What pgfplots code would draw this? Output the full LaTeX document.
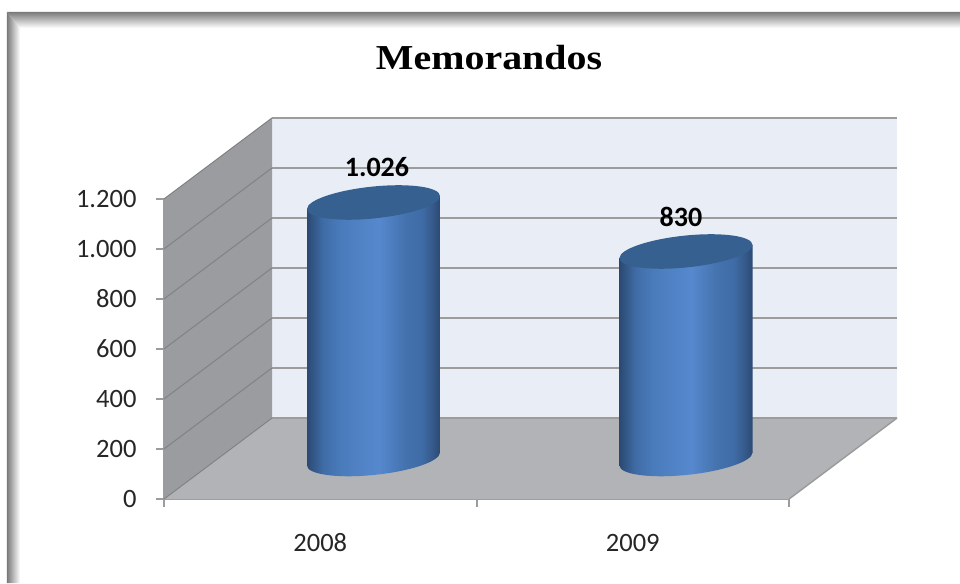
\documentclass[border=0pt]{standalone}
\usepackage{fontspec}
\usepackage{pgfplots}
\pgfplotsset{compat=1.18}
\setmainfont{Carlito}
\newfontfamily\titlefont{Liberation Serif}

\definecolor{wallback}{HTML}{E9EDF6}
\definecolor{wallside}{HTML}{9A9C9F}
\definecolor{wallfloor}{HTML}{B1B3B6}
\definecolor{gridc}{HTML}{9C9C9C}
\definecolor{sidegrid}{HTML}{808285}
\definecolor{capc}{HTML}{36608F}
\definecolor{cyledge}{HTML}{2B4A72}
\definecolor{cylb}{HTML}{3F6CA6}
\definecolor{cylc}{HTML}{4A7CBC}
\definecolor{cylmid}{HTML}{5688CE}
\definecolor{cyld}{HTML}{4472AD}
\definecolor{cyle}{HTML}{365A8C}

\pgfdeclarehorizontalshading{cyl}{100bp}{
  color(0bp)=(cyledge); color(25bp)=(cyledge); color(31bp)=(cylb); color(38bp)=(cylc);
  color(52bp)=(cylmid); color(62bp)=(cyld); color(68bp)=(cylb); color(72bp)=(cyle); color(75bp)=(cyledge); color(100bp)=(cyledge)}

% top and foot of a cylinder, slanted like the bars
\pgfdeclareplotmark{cyltop}{
  \pgfpathellipse{\pgfpointorigin}{\pgfpoint{66.5pt}{6.5pt}}{\pgfpoint{0pt}{16pt}}
  \pgfusepath{fill}}
\pgfdeclareplotmark{cylfoot}{
  \pgfpathellipse{\pgfpointorigin}{\pgfpoint{66.5pt}{6.5pt}}{\pgfpoint{0pt}{16pt}}
  \pgfshadepath{cyl}{0}\pgfusepath{discard}}

\pgfplotsset{
  cylbar/.style={ybar, /pgf/bar shift=0pt, /pgf/bar width=133pt, draw=none, shade, shading=cyl, shading angle=0, forget plot},
  cylend/.style={only marks, mark=#1, mark options={draw=none, fill=capc}, forget plot},
}

\begin{document}
\begin{tikzpicture}
\useasboundingbox (-164pt,-84pt) rectangle ++(960pt,583pt);
% frame shadow
\shade[top color=black!52, middle color=black!42, bottom color=white]
  (-157pt,487pt) -- (796pt,487pt) -- (796pt,471pt) -- (-144pt,471pt) -- cycle;
\shade[left color=black!52, middle color=black!42, right color=white]
  (-157pt,487pt) -- (-144pt,471pt) -- (-144pt,-84pt) -- (-157pt,-84pt) -- cycle;
\begin{axis}[
    scale only axis, width=625pt, height=300pt,
    xmin=0, xmax=2, ymin=0, ymax=1200,
    clip=false,
    axis x line=bottom, axis y line=left,
    axis line style={gridc, line width=2pt, -},
    xtick={0,1,2}, x tick label as interval, xticklabels={2008,2009},
    ytick={0,200,...,1200},
    tick align=outside, major tick length=8pt,
    tick style={gridc, line width=2pt},
    scaled ticks=false,
    /pgf/number format/assume math mode=true,
    /pgf/number format/1000 sep={.},
    tick label style={font=\fontsize{26.5}{30}\selectfont, text=black!85},
    xticklabel style={yshift=-24pt, text height=17pt, text depth=0pt},
    yticklabel style={xshift=-16pt},
    title={\titlefont\bfseries\scalebox{1.14}[1]{Memorandos}},
    title style={at={(axis description cs:0.52,1.45)}, anchor=center, font=\fontsize{35}{40}\selectfont},
  ]
  % walls
  \fill[wallback] (axis cs:0.3456,324) rectangle (axis cs:2.3456,1524);
  \fill[wallside] (axis cs:0,0) -- (axis cs:0.3456,324) -- (axis cs:0.3456,1524) -- (axis cs:0,1200) -- cycle;
  \fill[wallfloor] (axis cs:0,0) -- (axis cs:0.3456,324) -- (axis cs:2.3456,324) -- (axis cs:2,0) -- cycle;
  \pgfplotsinvokeforeach{0,200,...,1200}{
    \draw[gridc, line width=2pt] (axis cs:0.3456,#1+324) -- (axis cs:2.3456,#1+324);
    \draw[sidegrid, line width=1pt] (axis cs:0,#1) -- (axis cs:0.3456,#1+324);
  }
  \draw[gridc, line width=1.5pt] (axis cs:2,0) -- (axis cs:2.3456,324);

  % 2008
  \addplot[cylend=cylfoot, xshift=53.25pt, yshift=40pt] coordinates {(0.5,0)};
  \addplot[cylbar, xshift=53.25pt, yshift=24.7pt, yslant=0.098] coordinates {(0.5,1026)};
  \addplot[cylend=cyltop, xshift=53.25pt, yshift=40pt,
    nodes near coords, point meta=y,
    every node near coord/.append style={anchor=center, yshift=35pt, xshift=3.5pt, text=black,
      font=\fontsize{28}{32}\selectfont\bfseries}] coordinates {(0.5,1026)};
  % 2009
  \addplot[cylend=cylfoot, xshift=53.25pt, yshift=40pt] coordinates {(1.5,0)};
  \addplot[cylbar, xshift=53.25pt, yshift=-5.94pt, yslant=0.098] coordinates {(1.5,830)};
  \addplot[cylend=cyltop, xshift=53.25pt, yshift=40pt,
    nodes near coords, point meta=y,
    every node near coord/.append style={anchor=center, yshift=35pt, xshift=-5pt, text=black,
      font=\fontsize{28}{32}\selectfont\bfseries}] coordinates {(1.5,830)};
\end{axis}
\end{tikzpicture}
\end{document}
